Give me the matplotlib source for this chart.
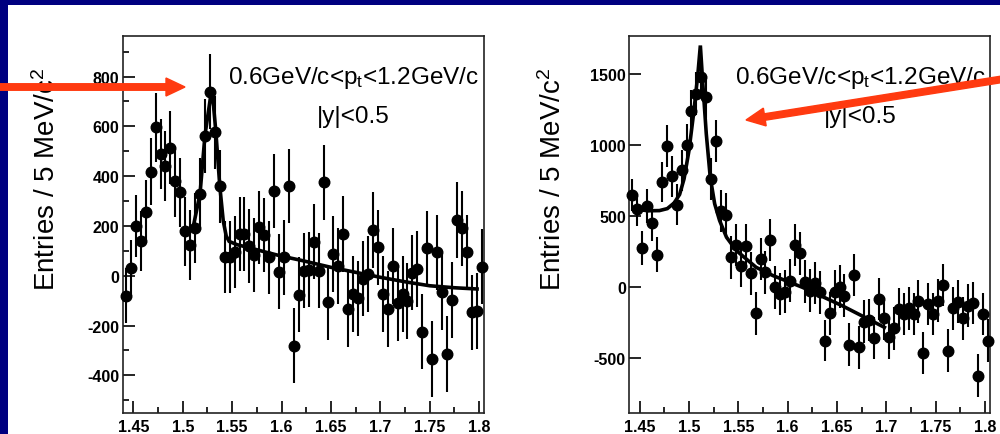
import numpy as np
import matplotlib
matplotlib.use('Agg')
import matplotlib.pyplot as plt
from matplotlib.patches import Rectangle, FancyArrow
from matplotlib.ticker import MultipleLocator

plt.rcParams['font.family'] = ['Liberation Sans', 'DejaVu Sans']
plt.rcParams['mathtext.default'] = 'regular'
plt.rcParams['axes.unicode_minus'] = False

# ---------------- data ----------------
bin_width = 0.005
n_bins = 73
mass = np.round(1.4425 + bin_width * np.arange(n_bins), 4)

left_counts = [-80, 30, 200, 140, 258, 418, 596, 489, 442, 515,
               379, 335, 178, 124, 191, 327, 561, 739, 576, 359,
               74, 74, 94, 167, 167, 120, 83, 194, 165, 74,
               341, 16, 74, 361, -281, -76, 20, 24, 137, 20,
               375, -107, 87, 40, 167, -134, -74, -91, -11, 7,
               183, 114, -74, -134, 40, -110, -74, -100, 13, 27,
               -224, 110, -335, 94, -64, -315, -98, 224, 190, 94,
               -147, -141, 37]
left_err = [110, 112, 125, 122, 128, 135, 140, 142, 140, 145,
            142, 140, 140, 142, 140, 145, 148, 150, 148, 145,
            145, 145, 145, 148, 148, 148, 148, 148, 148, 148,
            150, 150, 150, 150, 150, 150, 150, 150, 150, 150,
            152, 152, 152, 152, 152, 152, 152, 152, 152, 152,
            152, 152, 152, 152, 152, 152, 152, 152, 152, 152,
            152, 152, 152, 152, 152, 152, 152, 152, 152, 152,
            152, 152, 152]

right_counts = [647, 544, 273, 567, 447, 226, 737, 991, 777, 579,
                819, 1002, 1238, 1360, 1478, 1337, 760, 1026, 532, 508,
                207, 294, 148, 289, 94, -188, 195, 101, 329, -5,
                -52, -35, 42, 294, 235, 35, -28, 26, -40, -381,
                -188, -35, 0, -64, -409, 82, -428, -247, -235, -362,
                -87, -224, -358, -294, -158, -193, -153, -193, -104, -468,
                -122, -193, -99, 12, -452, -153, -106, -224, -134, -115,
                -628, -193, -381]
right_err = [115, 115, 118, 120, 122, 125, 140, 145, 145, 145,
             145, 148, 148, 150, 150, 150, 150, 146, 150, 150,
             150, 150, 150, 150, 150, 150, 150, 150, 150, 150,
             150, 150, 150, 150, 150, 150, 150, 150, 150, 146,
             150, 150, 150, 150, 150, 150, 150, 150, 150, 150,
             150, 150, 150, 150, 150, 150, 150, 150, 150, 150,
             150, 150, 150, 150, 150, 150, 150, 150, 150, 150,
             153, 150, 150]

left_fit_x = [1.510, 1.5175, 1.5225, 1.5295, 1.5335, 1.5375, 1.5410, 1.5440,
              1.5470, 1.555, 1.570, 1.585, 1.600, 1.620, 1.650, 1.675,
              1.700, 1.725, 1.750, 1.775, 1.798]
left_fit_y = [185, 330, 565, 755, 580, 360, 220, 160,
              138, 125, 110, 94, 79, 62, 34, 14,
              -6, -24, -40, -48, -53]

right_fit_x = [1.4450, 1.4520, 1.4600, 1.4700, 1.4780, 1.4850, 1.4905, 1.4950,
               1.5000, 1.5050, 1.5090, 1.5115, 1.5140, 1.5175, 1.5215, 1.5260,
               1.5310, 1.5380, 1.5480, 1.5680, 1.5850, 1.6020, 1.6150, 1.6550,
               1.6980]
right_fit_y = [555, 540, 535, 536, 550, 590, 650, 760,
               960, 1240, 1500, 1700, 1430, 1078, 772, 584,
               466, 348, 254, 136, 78, 31, -5, -134,
               -287]

x_ticks = [1.45, 1.5, 1.55, 1.6, 1.65, 1.7, 1.75, 1.8]
x_ticklabels = ['1.45', '1.5', '1.55', '1.6', '1.65', '1.7', '1.75', '1.8']
left_yticks = [-400, -200, 0, 200, 400, 600, 800]
right_yticks = [-500, 0, 500, 1000, 1500]

ylabel = 'Entries / 5 MeV/c$^2$'
cut_text = '0.6GeV/c<p$_t$<1.2GeV/c'
rap_text = '|y|<0.5'

# ---------------- figure ----------------
W, H = 1000, 435
fig = plt.figure(figsize=(W / 100, H / 100), dpi=100)
fig.patch.set_facecolor('#000080')
fig.add_artist(Rectangle((8 / W, 0), 1 - 8 / W, 1 - 6 / H, transform=fig.transFigure,
                         facecolor='white', edgecolor='none', zorder=0))


def make_panel(left_px, right_px, counts, err, fx, fy, ylim, yticks, yminor):
    top_px, bot_px = 37, 414
    ax = fig.add_axes([left_px / W, 1 - bot_px / H, (right_px - left_px) / W,
                       (bot_px - top_px) / H])
    ax.set_facecolor('white')
    ax.errorbar(mass, counts, yerr=err, fmt='o', color='black', ms=7.6,
                elinewidth=1.5, capsize=0, clip_on=False, zorder=3)
    ax.plot(fx, fy, color='black', lw=2.6, zorder=4, solid_joinstyle='miter')
    ax.set_xlim(1.4395, 1.805)
    ax.set_ylim(*ylim)
    ax.set_xticks(x_ticks, labels=x_ticklabels, fontsize=11.5, fontweight='bold')
    ax.set_yticks(yticks, labels=[str(v) for v in yticks], fontsize=11.5,
                  fontweight='bold')
    ax.xaxis.set_minor_locator(MultipleLocator(0.025))
    if yminor:
        ax.yaxis.set_minor_locator(MultipleLocator(yminor))
    ax.tick_params(which='both', direction='in', top=False, right=False,
                   width=1.2, colors='black')
    ax.tick_params(which='major', length=8.5)
    ax.tick_params(which='minor', length=4.2)
    ax.tick_params(axis='x', pad=4)
    ax.tick_params(axis='y', pad=2.5)
    for s in ax.spines.values():
        s.set_linewidth(1.2)
        s.set_color('#222222')
    return ax


ax1 = make_panel(123, 484, left_counts, left_err, left_fit_x, left_fit_y,
                 (-551, 963), left_yticks, 100)
ax2 = make_panel(629.3, 990, right_counts, right_err, right_fit_x, right_fit_y,
                 (-891, 1767), right_yticks, None)

# overlay in pixel coordinates for texts and arrows
ov = fig.add_axes([0, 0, 1, 1], zorder=10)
ov.set_xlim(0, W)
ov.set_ylim(H, 0)
ov.axis('off')
ov.patch.set_alpha(0)

for cx, lx in [(353, 47), (860, 553)]:
    ov.text(cx, 78, cut_text, ha='center', va='center', fontsize=17.5, color='black')
    ov.text(cx, 117, rap_text, ha='center', va='center', fontsize=17.5, color='black')
    ov.text(lx, 179, ylabel, rotation=90, ha='center', va='center', fontsize=20,
            color='black')

red = '#FF3A10'
ov.add_patch(FancyArrow(-5, 88, 190, 0, width=6.5, head_width=18, head_length=19,
                        length_includes_head=True, color=red, zorder=20))
ov.add_patch(FancyArrow(1010, 79, -264, 42, width=6.5, head_width=18, head_length=19,
                        length_includes_head=True, color=red, zorder=20))

fig.savefig('out.png', dpi=100, facecolor=fig.get_facecolor())
